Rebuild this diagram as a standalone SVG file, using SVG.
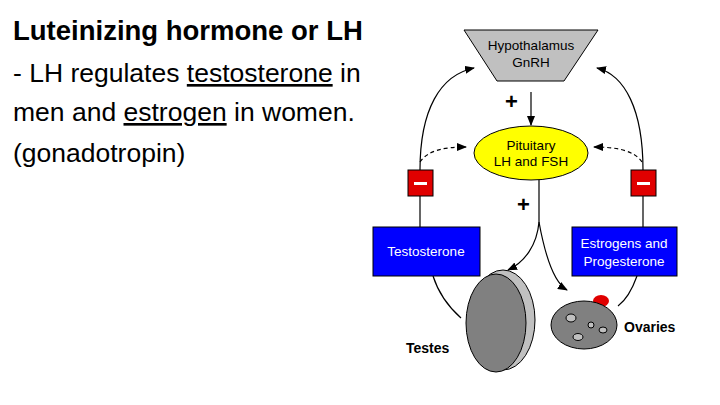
<svg xmlns="http://www.w3.org/2000/svg" width="720" height="405" viewBox="0 0 720 405">
<style>
.t{font-family:"Liberation Sans",Arial,sans-serif;font-size:26.5px;fill:#000}
.s{font-family:"Liberation Sans",Arial,sans-serif;font-size:13.5px}
.l{fill:none;stroke:#000;stroke-width:1.2}
.d{fill:none;stroke:#000;stroke-width:1.2;stroke-dasharray:4,3}
.p{font-family:"Liberation Sans",Arial,sans-serif;font-size:22px;font-weight:bold}
</style>
<defs><marker id="a" markerWidth="10" markerHeight="8" refX="9" refY="4" orient="auto" markerUnits="userSpaceOnUse"><path d="M0,0L10,4L0,8z"/></marker></defs>
<rect width="720" height="405" fill="#fff"/>
<text class="t" x="13" y="40" font-weight="bold" style="font-size:27.5px">Luteinizing hormone or LH</text>
<text class="t" x="13" y="82">- LH regulates <tspan text-decoration="underline">testosterone</tspan> in</text>
<text class="t" x="13" y="121">men and <tspan text-decoration="underline">estrogen</tspan> in women.</text>
<text class="t" x="13" y="162">(gonadotropin)</text>
<g id="connectors">
<path class="l" d="M531,92V125" marker-end="url(#a)"/>
<path class="l" d="M420,170C420,110 440,75 474,68" marker-end="url(#a)"/>
<path class="l" d="M643,170C643,110 625,75 597,68" marker-end="url(#a)"/>
<path class="d" d="M420,162C428,150 445,147 466,147" marker-end="url(#a)"/>
<path class="d" d="M642,162C634,150 615,147 594,147" marker-end="url(#a)"/>
<path class="l" d="M420,196V228M643,196V228"/>
<path class="l" d="M539,180V222C537,245 525,262 508,270" marker-end="url(#a)"/>
<path class="l" d="M539,222C545,255 553,282 567,290" marker-end="url(#a)"/>
<path class="l" d="M433,276C440,298 452,310 461,318"/>
<path class="l" d="M637,276C632,290 626,300 618,306"/>
<text class="p" x="505" y="109">+</text>
<text class="p" x="517" y="212">+</text>
</g>
<g id="hypothalamus"><path d="M464,30H598L564,81H497z" fill="#c0c0c0" stroke="#000"/>
<text class="s" x="531" y="50" text-anchor="middle">Hypothalamus</text><text class="s" x="531" y="67" text-anchor="middle">GnRH</text></g>
<g id="pituitary"><ellipse cx="531" cy="153" rx="57" ry="27" fill="#ffff00" stroke="#000"/>
<text class="s" x="531" y="150" text-anchor="middle">Pituitary</text><text class="s" x="531" y="166" text-anchor="middle">LH and FSH</text></g>
<g id="minusL"><rect x="408" y="170" width="25" height="26" fill="#e00000" stroke="#000"/><rect x="414" y="182" width="13" height="3" fill="#fff"/></g>
<g id="minusR"><rect x="631" y="170" width="25" height="26" fill="#e00000" stroke="#000"/><rect x="637" y="182" width="13" height="3" fill="#fff"/></g>
<g id="testosterone"><rect x="373" y="227" width="107" height="49" fill="#0000ff" stroke="#000"/>
<text class="s" x="426" y="256" text-anchor="middle" fill="#fff">Testosterone</text></g>
<g id="estrogen"><rect x="572" y="227" width="105" height="49" fill="#0000ff" stroke="#000"/>
<text class="s" x="624" y="248" text-anchor="middle" fill="#fff">Estrogens and</text><text class="s" x="624" y="266" text-anchor="middle" fill="#fff">Progesterone</text></g>
<g id="testes"><ellipse cx="503" cy="320" rx="32" ry="50" fill="#c0c0c0" stroke="#000"/>
<ellipse cx="496" cy="323" rx="30" ry="49" fill="#808080" stroke="#000"/>
<text x="406" y="353" font-family="'Liberation Sans',Arial,sans-serif" font-size="14" font-weight="bold">Testes</text></g>
<g id="ovaries"><ellipse cx="601" cy="301" rx="8" ry="6" fill="#e00000"/>
<ellipse cx="584" cy="325" rx="33" ry="24" fill="#808080" stroke="#000"/>
<ellipse cx="571" cy="318" rx="5" ry="4" fill="#c0c0c0" stroke="#000"/>
<ellipse cx="591" cy="325" rx="3" ry="3" fill="#c0c0c0" stroke="#000"/>
<ellipse cx="603" cy="330" rx="4" ry="3" fill="#c0c0c0" stroke="#000"/>
<ellipse cx="578" cy="337" rx="5" ry="3.5" fill="#c0c0c0" stroke="#000"/>
<text x="624" y="332" font-family="'Liberation Sans',Arial,sans-serif" font-size="14" font-weight="bold">Ovaries</text></g>
</svg>
